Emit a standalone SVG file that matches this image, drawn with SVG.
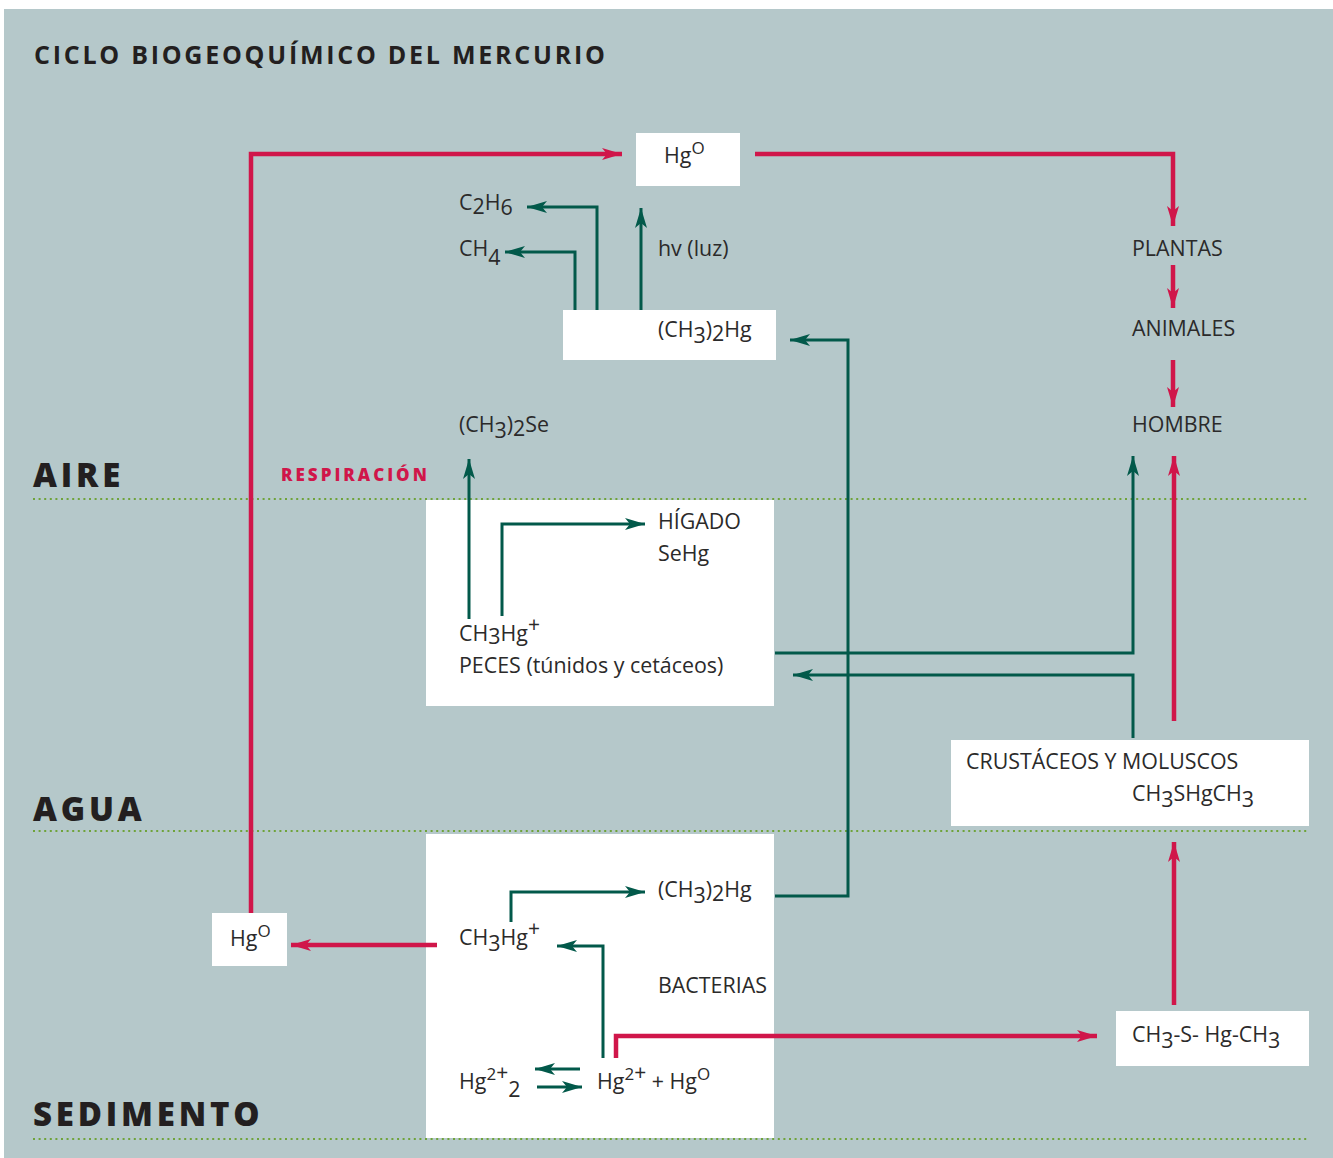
<svg xmlns="http://www.w3.org/2000/svg" width="1333" height="1158" viewBox="0 0 1333 1158">
  <style>
    .bg { fill: #b5c8ca; }
    .box { fill: #ffffff; }
    .t { font-family: "Open Sans", "Noto Sans", "DejaVu Sans", sans-serif; font-size: 21.4px; fill: #2b2a2a; }
    .s { font-size: 17px; }
    .p { font-size: 21px; }
    .title { font-family: "Open Sans", "Noto Sans", sans-serif; font-weight: 700; font-size: 25px; letter-spacing: 2.75px; fill: #231f20; }
    .zone { font-family: "Open Sans", "Noto Sans", sans-serif; font-weight: 800; font-size: 33px; letter-spacing: 3.8px; fill: #231f20; }
    .resp { font-family: "Open Sans", "Noto Sans", sans-serif; font-weight: 800; font-size: 17px; letter-spacing: 3px; fill: #d0164a; }
    .dots { stroke: #6fa33a; stroke-width: 2.2; stroke-dasharray: 2 3.6; fill: none; }
    .red { stroke: #d0164a; stroke-width: 4.5; fill: none; }
    .grn { stroke: #02594a; stroke-width: 3; fill: none; }
  </style>
  <defs>
    <marker id="ar" viewBox="0 0 20 12" refX="20" refY="6" markerWidth="20" markerHeight="12" markerUnits="userSpaceOnUse" orient="auto">
      <path d="M0,0 L20,6 L0,12 L5,6 Z" fill="#d0164a"/>
    </marker>
    <marker id="ag" viewBox="0 0 20 12" refX="20" refY="6" markerWidth="20" markerHeight="12" markerUnits="userSpaceOnUse" orient="auto">
      <path d="M0,0 L20,6 L0,12 L5,6 Z" fill="#02594a"/>
    </marker>
  </defs>

  <!-- panel -->
  <rect class="bg" x="4" y="9" width="1329" height="1149"/>

  <text class="title" x="34" y="64">CICLO BIOGEOQUÍMICO DEL MERCURIO</text>

  <!-- zones -->
  <g id="zones">
    <text class="zone" x="33" y="487">AIRE</text>
    <text class="zone" x="33" y="821">AGUA</text>
    <text class="zone" x="33" y="1126">SEDIMENTO</text>
    <line class="dots" x1="33" y1="499" x2="1309" y2="499"/>
    <line class="dots" x1="33" y1="831" x2="1309" y2="831"/>
    <line class="dots" x1="33" y1="1139" x2="1309" y2="1139"/>
  </g>

  <!-- white panels -->
  <g id="peces">
    <rect class="box" x="426" y="500" width="348" height="206"/>
    <text class="t" x="658" y="529">HÍGADO</text>
    <text class="t" x="658" y="561">SeHg</text>
    <text class="t" x="459" y="641">CH<tspan dy="3">3</tspan><tspan dy="-3">Hg</tspan><tspan class="p" dy="-9">+</tspan></text>
    <text class="t" x="459" y="673">PECES (túnidos y cetáceos)</text>
  </g>
  <g id="sedimento">
    <rect class="box" x="426" y="834" width="348" height="304"/>
    <text class="t" x="658" y="897">(CH<tspan dy="6">3</tspan><tspan dy="-6">)</tspan><tspan dy="4">2</tspan><tspan dy="-4">Hg</tspan></text>
    <text class="t" x="459" y="945">CH<tspan dy="6">3</tspan><tspan dy="-6">Hg</tspan><tspan class="p" dy="-9">+</tspan></text>
    <text class="t" x="658" y="993">BACTERIAS</text>
    <text class="t" x="459" y="1089">Hg<tspan class="s" dy="-9">2</tspan><tspan class="p">+</tspan><tspan dy="17">2</tspan></text>
    <text class="t" x="597" y="1089">Hg<tspan class="s" dy="-9">2</tspan><tspan class="p">+</tspan><tspan dy="9"> + Hg</tspan><tspan class="s" dy="-9">O</tspan></text>
  </g>

  <g id="hg0-top">
    <rect class="box" x="636" y="133" width="104" height="53"/>
    <text class="t" x="664" y="163">Hg<tspan class="s" dy="-9">O</tspan></text>
  </g>
  <g id="dimetil-aire">
    <rect class="box" x="563" y="310" width="213" height="50"/>
    <text class="t" x="658" y="337">(CH<tspan dy="6">3</tspan><tspan dy="-6">)</tspan><tspan dy="4">2</tspan><tspan dy="-4">Hg</tspan></text>
  </g>
  <g id="hg0-sed">
    <rect class="box" x="212" y="913" width="75" height="53"/>
    <text class="t" x="230" y="946">Hg<tspan class="s" dy="-9">O</tspan></text>
  </g>
  <g id="crustaceos">
    <rect class="box" x="951" y="740" width="358" height="86"/>
    <text class="t" x="966" y="769">CRUSTÁCEOS Y MOLUSCOS</text>
    <text class="t" x="1132" y="801">CH<tspan dy="6">3</tspan><tspan dy="-6">SHgCH</tspan><tspan dy="6">3</tspan></text>
  </g>
  <g id="tiometil">
    <rect class="box" x="1116" y="1011" width="193" height="55"/>
    <text class="t" x="1132" y="1042">CH<tspan dy="6">3</tspan><tspan dy="-6">-S- Hg-CH</tspan><tspan dy="6">3</tspan></text>
  </g>

  <!-- free labels -->
  <g id="gases">
    <text class="t" x="459" y="210">C<tspan dy="4">2</tspan><tspan dy="-4">H</tspan><tspan dy="5">6</tspan></text>
    <text class="t" x="459" y="256">CH<tspan dy="9">4</tspan></text>
    <text class="t" x="658" y="256">hv (luz)</text>
    <text class="t" x="459" y="432">(CH<tspan dy="6">3</tspan><tspan dy="-6">)</tspan><tspan dy="4">2</tspan><tspan dy="-4">Se</tspan></text>
    <text class="resp" x="281" y="481">RESPIRACIÓN</text>
  </g>
  <g id="cadena">
    <text class="t" x="1132" y="256">PLANTAS</text>
    <text class="t" x="1132" y="336">ANIMALES</text>
    <text class="t" x="1132" y="432">HOMBRE</text>
  </g>

  <!-- connectors -->
  <g id="connectors">
    <!-- mercury flows -->
    <path class="red" d="M251,913 V154 H622" marker-end="url(#ar)"/>
    <path class="red" d="M755,154 H1173 V226" marker-end="url(#ar)"/>
    <path class="red" d="M1173,265 V308" marker-end="url(#ar)"/>
    <path class="red" d="M1173,360 V407" marker-end="url(#ar)"/>
    <path class="red" d="M1174,721 V456" marker-end="url(#ar)"/>
    <path class="red" d="M1174,1005 V842" marker-end="url(#ar)"/>
    <path class="red" d="M616,1058 V1036 H1097" marker-end="url(#ar)"/>
    <path class="red" d="M437,945 H291" marker-end="url(#ar)"/>

    <!-- chemical transformations -->
    <path class="grn" d="M597,310 V207 H527" marker-end="url(#ag)"/>
    <path class="grn" d="M575,310 V252 H505" marker-end="url(#ag)"/>
    <path class="grn" d="M641,310 V208" marker-end="url(#ag)"/>
    <path class="grn" d="M469,619 V459" marker-end="url(#ag)"/>
    <path class="grn" d="M502,616 V524 H645" marker-end="url(#ag)"/>
    <path class="grn" d="M775,896 H848 V340 H790" marker-end="url(#ag)"/>
    <path class="grn" d="M775,653 H1133 V456" marker-end="url(#ag)"/>
    <path class="grn" d="M1133,738 V675 H793" marker-end="url(#ag)"/>
    <path class="grn" d="M511,922 V892 H645" marker-end="url(#ag)"/>
    <path class="grn" d="M603,1058 V946 H557" marker-end="url(#ag)"/>
    <path class="grn" d="M580,1069 H535" marker-end="url(#ag)"/>
    <path class="grn" d="M537,1087 H582" marker-end="url(#ag)"/>
  </g>
</svg>
